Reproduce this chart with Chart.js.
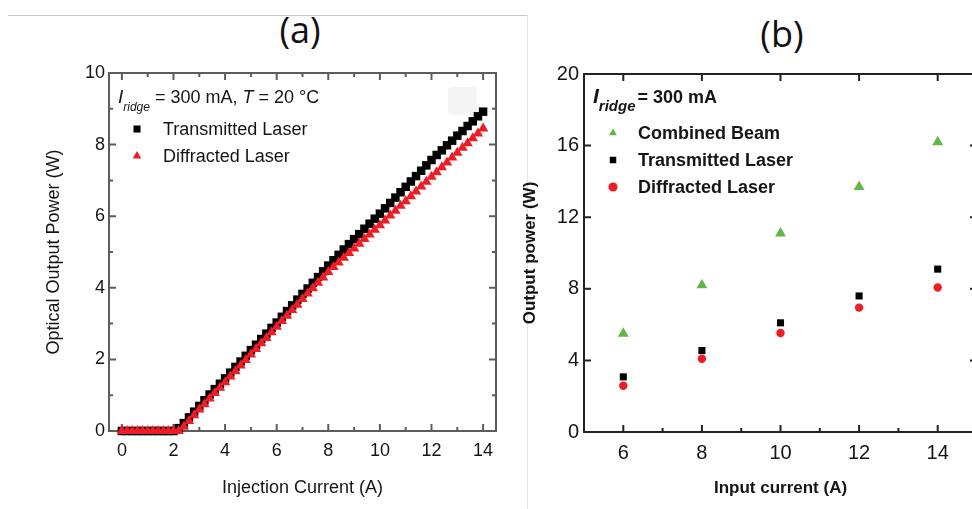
<!DOCTYPE html>
<html>
<head>
<meta charset="utf-8">
<script src="https://cdn.jsdelivr.net/npm/chart.js@4.4.1/dist/chart.umd.min.js"></script>
<style>
    html, body { margin: 0; padding: 0; width: 972px; height: 509px; overflow: hidden; background: #fff; }
    body { position: relative; }
    .rule-h { position: absolute; left: 8px; top: 15px; width: 519px; height: 1px; background: #c8c8c8; }
    .rule-v { position: absolute; left: 527px; top: 15px; width: 1px; height: 494px; background: #e4e4e4; }
    .panel-title { position: absolute; font-family: "Open Sans", sans-serif; font-size: 36px; color: #111; transform: translate(-50%, -50%); line-height: 1; }
    .smudge { position: absolute; left: 448px; top: 87px; width: 29px; height: 28px; background: #f4f4f4; border-radius: 4px; }
    canvas { position: absolute; top: 0; }
    #chartA { left: 0; }
    #chartB { left: 505px; }
</style>
</head>
<body>
<div class="rule-h"></div>
<div class="rule-v"></div>
<div class="panel-title" style="left:300px; top:30px;">(a)</div>
<div class="panel-title" style="left:782px; top:34px;">(b)</div>
<div class="smudge"></div>
<canvas id="chartA" width="527" height="509"></canvas>
<canvas id="chartB" width="520" height="509"></canvas>
<script>
// panel (a): L-I curves, 0.2 A steps
const injectionCurrent = [
    0, 0.2, 0.4, 0.6, 0.8, 1.0, 1.2, 1.4, 1.6, 1.8,
    2.0, 2.2, 2.4, 2.6, 2.8, 3.0, 3.2, 3.4, 3.6, 3.8,
    4.0, 4.2, 4.4, 4.6, 4.8, 5.0, 5.2, 5.4, 5.6, 5.8,
    6.0, 6.2, 6.4, 6.6, 6.8, 7.0, 7.2, 7.4, 7.6, 7.8,
    8.0, 8.2, 8.4, 8.6, 8.8, 9.0, 9.2, 9.4, 9.6, 9.8,
    10.0, 10.2, 10.4, 10.6, 10.8, 11.0, 11.2, 11.4, 11.6, 11.8,
    12.0, 12.2, 12.4, 12.6, 12.8, 13.0, 13.2, 13.4, 13.6, 13.8,
    14.0
];
const transmittedPowerA = [
    0, 0, 0, 0, 0, 0, 0, 0, 0, 0,
    0, 0.08, 0.22, 0.38, 0.54, 0.70, 0.86, 1.02, 1.17, 1.32,
    1.47, 1.63, 1.79, 1.94, 2.10, 2.26, 2.41, 2.57, 2.72, 2.88,
    3.03, 3.19, 3.35, 3.51, 3.67, 3.83, 3.98, 4.14, 4.30, 4.46,
    4.62, 4.77, 4.92, 5.07, 5.22, 5.36, 5.50, 5.65, 5.79, 5.93,
    6.07, 6.22, 6.37, 6.52, 6.67, 6.82, 6.97, 7.12, 7.27, 7.42,
    7.57, 7.71, 7.84, 7.98, 8.11, 8.25, 8.38, 8.52, 8.65, 8.79,
    8.92
];
const diffractedPowerA = [
    0, 0, 0, 0, 0, 0, 0, 0, 0, 0,
    0, 0, 0.12, 0.28, 0.44, 0.60, 0.75, 0.91, 1.06, 1.21,
    1.36, 1.52, 1.67, 1.83, 1.98, 2.14, 2.29, 2.45, 2.60, 2.76,
    2.91, 3.07, 3.22, 3.38, 3.53, 3.69, 3.84, 3.99, 4.14, 4.29,
    4.44, 4.58, 4.71, 4.84, 4.97, 5.10, 5.23, 5.36, 5.49, 5.62,
    5.75, 5.88, 6.02, 6.15, 6.29, 6.42, 6.56, 6.69, 6.83, 6.96,
    7.10, 7.23, 7.37, 7.50, 7.64, 7.77, 7.91, 8.04, 8.18, 8.31,
    8.45
];
const xTicksA = [0, 2, 4, 6, 8, 10, 12, 14];
const yTicksA = [0, 2, 4, 6, 8, 10];

// panel (b): output power per input current
const inputCurrent = [6, 8, 10, 12, 14];
const combinedBeamB = [5.5, 8.2, 11.1, 13.7, 16.2];
const transmittedB = [3.08, 4.55, 6.1, 7.6, 9.1];
const diffractedB = [2.58, 4.09, 5.53, 6.95, 8.07];
const xTicksB = [6, 8, 10, 12, 14];
const yTicksB = [0, 4, 8, 12, 16, 20];

const SANS = '"Liberation Sans", Arial, sans-serif';
const INK = '#151515';

const pairs = (xs, ys) => xs.map((x, i) => ({ x: x, y: ys[i] }));
const fixTicks = (values) => (scale) => { scale.ticks = values.map((v) => ({ value: v })); };

// box around the plot with inward tick marks
const frame = {
    id: 'frame',
    beforeDatasetsDraw(chart, args, o) {
        const { ctx, chartArea: a, scales } = chart;
        const minors = (vals) => vals.slice(1).map((v, i) => (v + vals[i]) / 2);
        const xs = scales.x.ticks.map((t) => t.value);
        const ys = scales.y.ticks.map((t) => t.value);
        ctx.save();
        ctx.strokeStyle = o.color;
        ctx.lineWidth = o.width;
        ctx.strokeRect(a.left, a.top, a.right - a.left, a.bottom - a.top);
        ctx.beginPath();
        const markX = (vals, len, sides) => vals.forEach((v) => {
            const px = scales.x.getPixelForValue(v);
            if (sides.includes('bottom')) { ctx.moveTo(px, a.bottom); ctx.lineTo(px, a.bottom - len); }
            if (sides.includes('top')) { ctx.moveTo(px, a.top); ctx.lineTo(px, a.top + len); }
        });
        const markY = (vals, len, sides) => vals.forEach((v) => {
            const py = scales.y.getPixelForValue(v);
            if (sides.includes('left')) { ctx.moveTo(a.left, py); ctx.lineTo(a.left + len, py); }
            if (sides.includes('right')) { ctx.moveTo(a.right, py); ctx.lineTo(a.right - len, py); }
        });
        markX(xs, o.major, o.xMajor);
        markX(minors(xs), o.minor, o.xMinor);
        markY(ys, o.major, o.yMajor);
        markY(minors(ys), o.minor, o.yMinor);
        ctx.stroke();
        ctx.restore();
    }
};

// legend block inside the plot, with the I_ridge header line
const insetLegend = {
    id: 'insetLegend',
    afterDraw(chart, args, o) {
        const ctx = chart.ctx;
        ctx.save();
        ctx.fillStyle = INK;
        ctx.textBaseline = 'alphabetic';
        let x = o.headerX;
        o.header.forEach((p) => {
            const size = p.size || (p.sub ? o.subSize : o.size);
            ctx.font = (p.italic ? 'italic ' : '') + o.weight + ' ' + size + 'px ' + SANS;
            ctx.fillText(p.text, x, p.sub ? o.headerY + o.subDrop : o.headerY);
            x += ctx.measureText(p.text).width + (p.gap || 0);
        });
        ctx.font = o.weight + ' ' + o.size + 'px ' + SANS;
        ctx.textBaseline = 'middle';
        o.order.forEach((idx, row) => {
            const ds = chart.data.datasets[idx];
            const y = o.rowY + row * o.rowGap;
            ctx.fillStyle = ds.backgroundColor;
            Chart.helpers.drawPoint(ctx, { pointStyle: ds.pointStyle, radius: o.markerRadius, rotation: 0, borderWidth: 0 }, o.markerX, y);
            ctx.fillStyle = INK;
            ctx.fillText(ds.label, o.textX, y + 1);
        });
        ctx.restore();
    }
};

new Chart(document.getElementById('chartA'), {
    type: 'scatter',
    data: {
        datasets: [{
            label: 'Transmitted Laser',
            data: pairs(injectionCurrent, transmittedPowerA),
            pointStyle: 'rect',
            pointRadius: 6,
            backgroundColor: '#000000',
            borderWidth: 0,
            clip: false,
            order: 1,
        }, {
            label: 'Diffracted Laser',
            data: pairs(injectionCurrent, diffractedPowerA),
            pointStyle: 'triangle',
            pointRadius: 6,
            backgroundColor: '#ee1c25',
            borderWidth: 0,
            clip: false,
            order: 0,
        }],
    },
    options: {
        responsive: false,
        animation: false,
        events: [],
        layout: { padding: { left: 0, top: 73, right: 31, bottom: 0 } },
        scales: {
            x: {
                type: 'linear',
                min: -0.5,
                max: 14.5,
                afterBuildTicks: fixTicks(xTicksA),
                afterFit: (s) => { s.height = 78; },
                grid: { display: false, drawTicks: false },
                border: { display: false },
                ticks: { padding: 9, color: INK, font: { family: SANS, size: 18 } },
                title: { display: true, text: 'Injection Current (A)', color: INK, padding: { bottom: 10 }, font: { family: SANS, size: 18 } },
            },
            y: {
                type: 'linear',
                min: 0,
                max: 10,
                afterBuildTicks: fixTicks(yTicksA),
                afterFit: (s) => { s.width = 109; },
                grid: { display: false, drawTicks: false },
                border: { display: false },
                ticks: { padding: 4, color: INK, font: { family: SANS, size: 18 } },
                title: { display: true, text: 'Optical Output Power (W)', color: INK, padding: { top: 43 }, font: { family: SANS, size: 18 } },
            },
        },
        plugins: {
            legend: { display: false },
            tooltip: { enabled: false },
            frame: {
                color: '#5c5c5c', width: 2, major: 7, minor: 4,
                xMajor: ['bottom', 'top'], xMinor: ['bottom', 'top'],
                yMajor: ['left', 'right'], yMinor: ['left', 'right'],
            },
            insetLegend: {
                weight: 'normal', size: 18, subSize: 12, subDrop: 8,
                headerX: 118, headerY: 103,
                header: [
                    { text: 'I', italic: true, size: 19 },
                    { text: 'ridge', italic: true, sub: true },
                    { text: ' = 300 mA, ' },
                    { text: 'T', italic: true },
                    { text: ' = 20 °C' },
                ],
                order: [0, 1], markerX: 137, textX: 163, rowY: 129, rowGap: 27, markerRadius: 5,
            },
        },
    },
    plugins: [frame, insetLegend],
});

new Chart(document.getElementById('chartB'), {
    type: 'scatter',
    data: {
        datasets: [{
            label: 'Combined Beam',
            data: pairs(inputCurrent, combinedBeamB),
            pointStyle: 'triangle',
            pointRadius: 6.3,
            backgroundColor: '#62b846',
            borderWidth: 0,
            clip: false,
        }, {
            label: 'Transmitted Laser',
            data: pairs(inputCurrent, transmittedB),
            pointStyle: 'rect',
            pointRadius: 5,
            backgroundColor: '#000000',
            borderWidth: 0,
            clip: false,
        }, {
            label: 'Diffracted Laser',
            data: pairs(inputCurrent, diffractedB),
            pointStyle: 'circle',
            pointRadius: 4.2,
            backgroundColor: '#ee1c25',
            borderWidth: 0,
            clip: false,
        }],
    },
    options: {
        responsive: false,
        animation: false,
        events: [],
        layout: { padding: { left: 0, top: 74, right: 48, bottom: 0 } },
        scales: {
            x: {
                type: 'linear',
                min: 5,
                max: 15,
                afterBuildTicks: fixTicks(xTicksB),
                afterFit: (s) => { s.height = 77; },
                grid: { display: false, drawTicks: false },
                border: { display: false },
                ticks: { padding: 9, color: INK, font: { family: SANS, size: 20 } },
                title: { display: true, text: 'Input current (A)', color: INK, padding: { bottom: 10 }, font: { family: SANS, size: 17, weight: 'bold' } },
            },
            y: {
                type: 'linear',
                min: 0,
                max: 20,
                afterBuildTicks: fixTicks(yTicksB),
                afterFit: (s) => { s.width = 79; },
                grid: { display: false, drawTicks: false },
                border: { display: false },
                ticks: { padding: 5, color: INK, font: { family: SANS, size: 20 } },
                title: { display: true, text: 'Output power (W)', color: INK, padding: { top: 15 }, font: { family: SANS, size: 17, weight: 'bold' } },
            },
        },
        plugins: {
            legend: { display: false },
            tooltip: { enabled: false },
            frame: {
                color: '#222222', width: 2, major: 7, minor: 4,
                xMajor: ['bottom', 'top'], xMinor: ['bottom'],
                yMajor: ['left', 'right'], yMinor: [],
            },
            insetLegend: {
                weight: 'bold', size: 18, subSize: 15, subDrop: 8,
                headerX: 88, headerY: 103,
                header: [
                    { text: 'I', italic: true, size: 21 },
                    { text: 'ridge', italic: true, sub: true, gap: 2 },
                    { text: '= 300 mA' },
                ],
                order: [0, 1, 2], markerX: 108, textX: 133, rowY: 133, rowGap: 27, markerRadius: 4.6,
            },
        },
    },
    plugins: [frame, insetLegend],
});
</script>
</body>
</html>
